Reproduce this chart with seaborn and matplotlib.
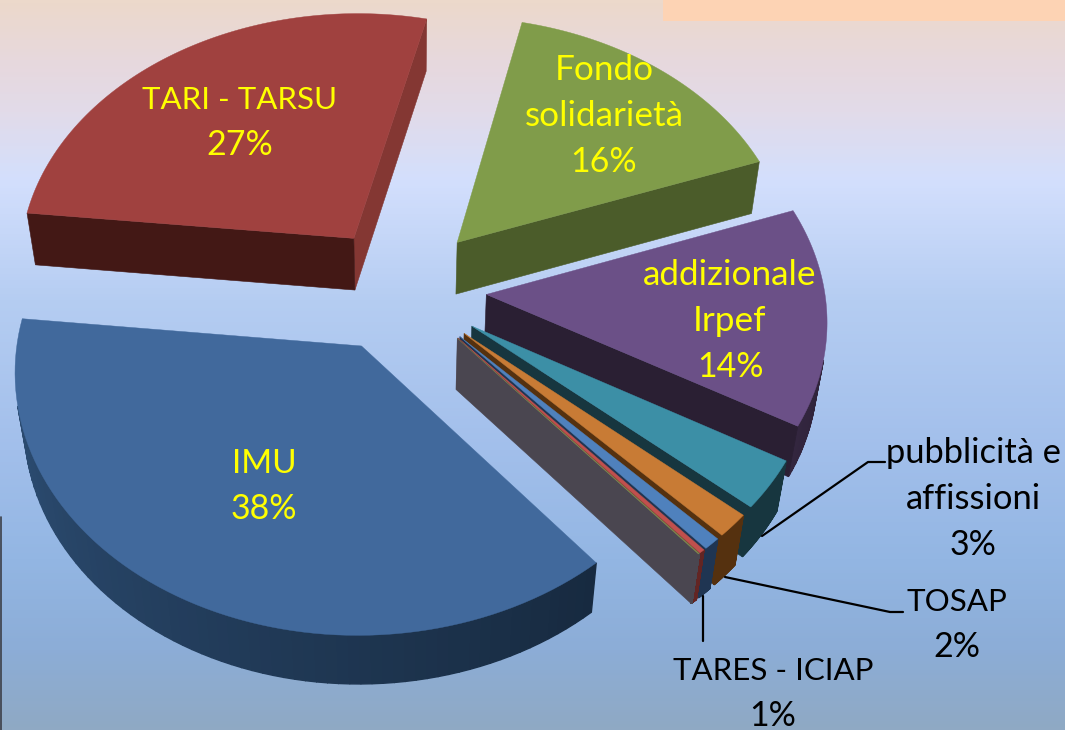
import numpy as np
import matplotlib
matplotlib.use('Agg')
import matplotlib.pyplot as plt
import seaborn as sns
from matplotlib.colors import LinearSegmentedColormap, to_rgb

sns.set_style('white')
plt.rcParams['font.family'] = ['Lato', 'DejaVu Sans']

# Slices in clockwise order, the two last unlabelled ones are slivers
names = ['TARI - TARSU', 'Fondo\nsolidarietà', 'addizionale\nIrpef', 'pubblicità e\naffissioni',
         'TOSAP', 'TARES - ICIAP', '', '', 'IMU']
shares = [27.2, 16.0, 13.9, 3.15, 1.5, 0.75, 0.25, 0.05, 38.1]

# Styles
top_colors = ['#a0413f', '#809c4a', '#6b5087', '#3c8fa6', '#c87b35', '#4f81bd', '#c0504d', '#7f8a50', '#41699c']
cw_wall = ['#843733', '#4b5c2a', '#2a1f33', '#17363f', '#55310f', '#1f3552', '#632523', '#4a4650', '#1a2c42']
ccw_wall = ['#431815', '#4b5c2a', '#2a1f33', '#17363f', '#55310f', '#1f3552', '#632523', '#4a4650', '#1a2c42']
arc_from = ['#431815', '#4b5c2a', '#33263f', '#17363f', '#55310f', '#1f3552', '#632523', '#4a4650', '#2f5179']
arc_to = ['#431815', '#4b5c2a', '#2a1f33', '#17363f', '#55310f', '#1f3552', '#632523', '#4a4650', '#172a40']
label_xy = [(240, 121), (604, 115), (730, 320), (973, 498), (957, 623), (773, 692), None, None, (264, 485)]
label_col = ['#ffff00', '#ffff00', '#ffff00', 'black', 'black', 'black', None, None, '#ffff00']
label_size = [22.5, 25.3, 25.3, 24.8, 22.6, 22.5, 0, 0, 24]
bg_stops = [(0, '#ecd9cb'), (60, '#e7d8dd'), (110, '#e2dbe9'), (180, '#d3dffd'), (300, '#b5cdf2'),
            (450, '#a2bfeb'), (560, '#93b6e3'), (650, '#8cadd7'), (730, '#8fa9c4')]

W, H = 1065, 730
CX, CY = 402, 289
ELEV = np.radians(48.5)
DIST = 7.5
FOCAL = 338 * DIST
DEPTH = 0.235
LINE_GAP = 46
CAM = np.array([0, -DIST * np.cos(ELEV), DIST * np.sin(ELEV)])


def project(x, y, z):
    up = y * np.sin(ELEV) + z * np.cos(ELEV)
    away = y * np.cos(ELEV) - z * np.sin(ELEV)
    s = FOCAL / (DIST + away)
    return CX + x * s, CY - up * s


def facing(px, py, nx, ny):
    # True when the vertical wall at (px, py) with normal (nx, ny) looks at the camera
    return (CAM[0] - px) * nx + (CAM[1] - py) * ny > 0


def quad(ax, p, q, color, lw=0.4):
    xs = [p[0], q[0], q[0], p[0]]
    ys = [p[1], q[1], q[1], p[1]]
    zs = [0, 0, -DEPTH, -DEPTH]
    sx, sy = project(np.array(xs), np.array(ys), np.array(zs))
    ax.fill(sx, sy, color=color, lw=lw, zorder=3)


fig = plt.figure(figsize=(W / 100, H / 100), dpi=100)

# the pie itself gives the angles and the explosion of every slice
pie_ax = fig.add_axes([0, 0, 1, 1])
wedges, _ = pie_ax.pie(shares, startangle=174, counterclock=False, explode=[0.25] * len(shares))
geom = [(w.theta1, w.theta2, w.center) for w in wedges]
fig.delaxes(pie_ax)

ax = fig.add_axes([0, 0, 1, 1])
ax.set_xlim(0, W)
ax.set_ylim(H, 0)
ax.axis('off')

# background gradient
cmap = LinearSegmentedColormap.from_list('bg', [(y / H, c) for y, c in bg_stops])
ax.imshow(np.linspace(0, 1, H).reshape(-1, 1), cmap=cmap, extent=[0, W, H, 0], aspect='auto', zorder=0)
ax.add_patch(plt.Rectangle((663, 0), W - 663, 21, color='#fdd3b4', lw=0, zorder=1))
ax.plot([0.5, 0.5], [517, H], color='#3c3f48', lw=1.2, zorder=1)

for i, (t1, t2, (ox, oy)) in enumerate(geom):
    t = np.radians(np.linspace(t1, t2, 80))
    ax_x = ox + np.cos(t)
    ax_y = oy + np.sin(t)
    # outer wall, shaded along the arc
    c_a, c_b = np.array(to_rgb(arc_from[i])), np.array(to_rgb(arc_to[i]))
    for j in range(len(t) - 1):
        m = 0.5 * (t[j] + t[j + 1])
        if facing(ox + np.cos(m), oy + np.sin(m), np.cos(m), np.sin(m)):
            k = 1 - (j / (len(t) - 2))
            quad(ax, (ax_x[j], ax_y[j]), (ax_x[j + 1], ax_y[j + 1]), tuple(c_b * (1 - k) + c_a * k), lw=1.0)
    # cut walls
    a1, a2 = t[0], t[-1]
    if facing(ox, oy, np.sin(a1), -np.cos(a1)):
        quad(ax, (ox, oy), (ax_x[0], ax_y[0]), cw_wall[i])
    if facing(ox, oy, -np.sin(a2), np.cos(a2)):
        quad(ax, (ox, oy), (ax_x[-1], ax_y[-1]), ccw_wall[i])
    # top face
    sx, sy = project(np.r_[ox, ax_x], np.r_[oy, ax_y], np.zeros(len(t) + 1))
    ax.fill(sx, sy, color=top_colors[i], lw=0.3, zorder=3)

# leader lines
leaders = [([885, 868, 762], [462, 462, 536]), ([903, 890, 725], [612, 612, 577]), ([703, 703], [641, 596])]
for lx, ly in leaders:
    ax.plot(lx, ly, color='black', lw=1.6, zorder=4)

# one text per line so the percent keeps its own size
for name, share, xy, col, size in zip(names, shares, label_xy, label_col, label_size):
    if xy is None:
        continue
    lines = name.split('\n') + [f'{share:.0f}%']
    top = xy[1] - (len(lines) - 1) * LINE_GAP / 2
    for n, line in enumerate(lines):
        fs = 24.5 if n == len(lines) - 1 else size
        ax.text(xy[0], top + n * LINE_GAP + 11, line, color=col, ha='center', va='baseline',
                fontsize=fs, zorder=5)

fig.savefig('out.png', dpi=100)
